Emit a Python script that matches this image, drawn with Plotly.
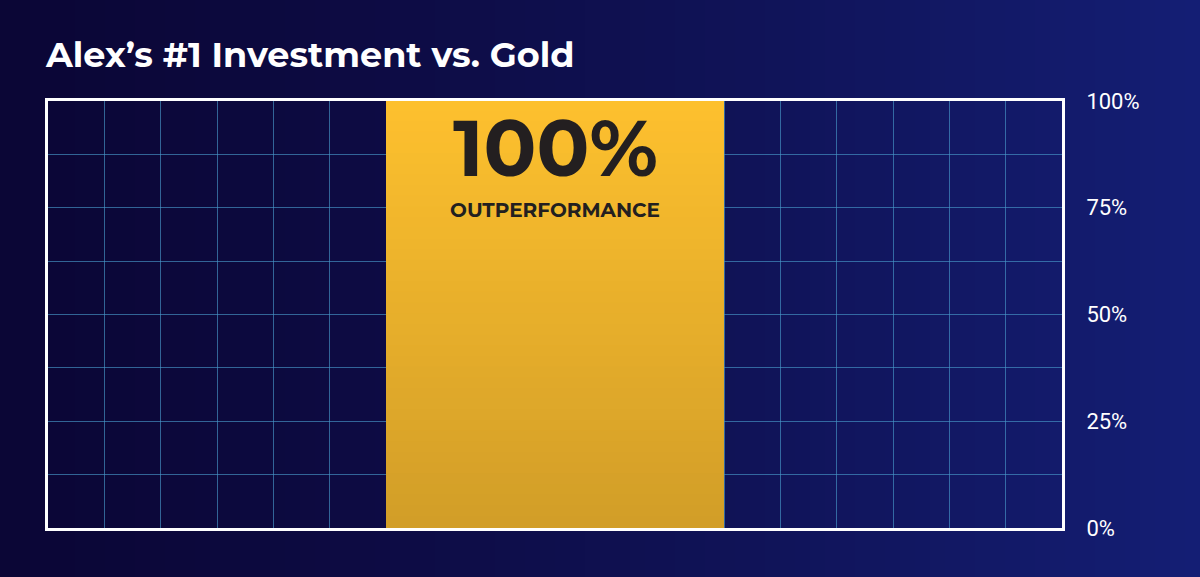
import plotly.graph_objects as go

categories = ["Alex's #1 Investment"]
outperformance = [100]
x_positions = [1.5]
y_ticks = [0, 25, 50, 75, 100]
y_labels = ["0%", "25%", "50%", "75%", "100%"]

fig = go.Figure()
fig.add_bar(x=x_positions, y=outperformance, width=1, marker=dict(color="#f2b52e", line=dict(width=0)),
            hoverinfo="skip", name=categories[0])

def mix(c1, c2, t):
    return "rgb(%d,%d,%d)" % tuple(round(a + (b - a) * t) for a, b in zip(c1, c2))

L, T, R, B = 48, 101, 138, 49
PW, PH = 1200 - L - R, 577 - T - B
px0, px1 = -L / PW, (1200 - L) / PW
py0, py1 = -B / PH, (577 - B) / PH
shapes = []
N = 80
for i in range(N):
    t = i / (N - 1)
    shapes.append(dict(type="rect", xref="paper", yref="paper",
                       x0=px0 + (px1 - px0) * i / N, x1=px0 + (px1 - px0) * (i + 1) / N + 0.002,
                       y0=py0, y1=py1, layer="below", line=dict(width=0),
                       fillcolor=mix((11, 6, 54), (20, 30, 116), t ** 1.3)))
M = 40
bx0, bx1 = x_positions[0] - 0.5, x_positions[0] + 0.5
top = outperformance[0]
for i in range(M):
    t = i / (M - 1)
    shapes.append(dict(type="rect", xref="x", yref="y", x0=bx0, x1=bx1,
                       y0=top * (1 - (i + 1) / M), y1=top * (1 - i / M) + 0.3, layer="above", line=dict(width=0),
                       fillcolor=mix((253, 192, 46), (210, 158, 40), t)))
fig.update_layout(shapes=shapes)

grid = [i * 12.5 for i in range(9)]
fig.update_layout(
    width=1200, height=577, margin=dict(l=L, r=R, t=T, b=B),
    paper_bgcolor="#0b0636", plot_bgcolor="rgba(0,0,0,0)", showlegend=False,
    bargap=0,
    title=dict(text="<b>Alex’s #1 Investment vs. Gold</b>", x=46 / 1200, xanchor="left", y=1 - 55 / 577, yanchor="middle",
               font=dict(family="Montserrat, Open Sans", size=35, color="white")),
    xaxis=dict(range=[0, 3], tickvals=[i / 6 for i in range(19)], showticklabels=False, ticks="",
               gridcolor="rgba(70,150,200,0.65)", gridwidth=1, zeroline=False,
               showline=True, linecolor="white", linewidth=3, mirror=True),
    yaxis=dict(range=[0, 100], side="right", tickvals=grid,
               ticktext=[y_labels[y_ticks.index(v)] if v in y_ticks else "" for v in grid],
               tickfont=dict(family="Roboto", size=22, color="white"), ticks="", ticklen=0,
               gridcolor="rgba(70,150,200,0.65)", gridwidth=1, zeroline=False,
               showline=True, linecolor="white", linewidth=3, mirror=True,
               ticklabelstandoff=17),
)
fig.add_annotation(x=x_positions[0], y=89, xref="x", yref="y", text="<b>100%</b>", showarrow=False,
                   font=dict(family="Montserrat, Open Sans", size=78, color="#231f20"))
fig.add_annotation(x=x_positions[0], y=74.5, xref="x", yref="y", text="<b>OUTPERFORMANCE</b>", showarrow=False,
                   font=dict(family="Montserrat, Open Sans", size=20, color="#231f20"))
fig.write_html("out.html", config={"displayModeBar": False},
               post_script="document.body.style.margin='0';document.body.style.overflow='hidden';")
